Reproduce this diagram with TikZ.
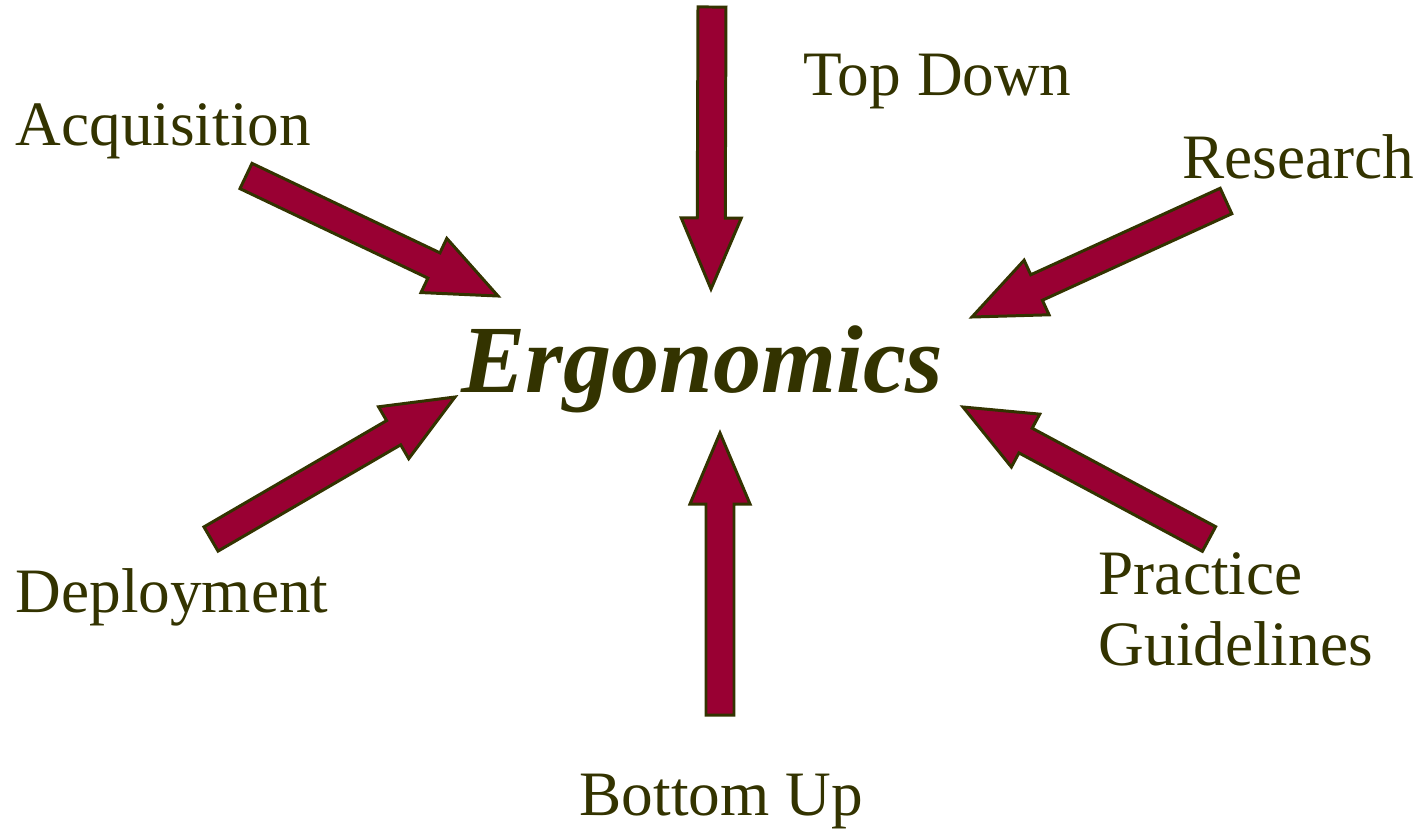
\documentclass[tikz,border=0pt]{standalone}
\usepackage{fontspec}
\setmainfont{Liberation Serif}
\usepackage{xcolor}
\usepackage{tikz}
\usetikzlibrary{%
  calc,
  positioning}
\definecolor{olivetext}{HTML}{333300}
\definecolor{maroonfill}{HTML}{990033}
\tikzset{
  %% Outer labels
  lblnode/.style={
    inner sep=0pt, text=olivetext, align=left,
    font=\fontsize{18}{20}\selectfont},
  %% Central label
  hubnode/.style={
    inner sep=0pt, text=olivetext,
    font=\fontsize{27.4}{30}\selectfont\bfseries\itshape},
  %% Block arrows
  blkarrow/.style={
    fill=maroonfill, draw=olivetext, line width=0.85pt},
}
%% block arrow from tail #1 to tip #2
\newcommand{\blkarrow}[2]{%
  \coordinate (#1-hb) at ($(#2)!0.71cm!(#1)$);
  \draw[blkarrow]
    ($(#1)!0.14cm!90:(#2)$) -- ($(#1-hb)!0.14cm!90:(#2)$)
    -- ($(#1-hb)!0.30cm!90:(#2)$) -- (#2)
    -- ($(#1-hb)!0.30cm!-90:(#2)$) -- ($(#1-hb)!0.14cm!-90:(#2)$)
    -- ($(#1)!0.14cm!-90:(#2)$) -- cycle;}
\begin{document}
\begin{tikzpicture}

  \useasboundingbox (0,0) rectangle (14.28,8.30);

  %% Labels
  \node[hubnode, anchor=base west] (ergo) at (4.61,4.38) {Ergonomics};
  \node[lblnode, anchor=base west] (acq)  at (0.15,6.85) {Acquisition};
  \node[lblnode, anchor=base west] (top)  at (8.03,7.35) {Top Down};
  \node[lblnode, anchor=base west] (res)  at (11.82,6.52) {Research};
  \node[lblnode, anchor=base west] (dep)  at (0.15,2.18) {Deployment};
  \node[lblnode, anchor=base west] (prac) at (10.98,1.65) {Practice\\Guidelines};
  \node[lblnode, anchor=base west] (bot)  at (5.79,0.15) {Bottom Up};

  %% Arrow ends
  \coordinate (topT) at (7.12,8.23);  \coordinate (topP) at (7.11,5.41);
  \coordinate (botT) at (7.20,1.15);  \coordinate (botP) at (7.20,3.97);
  \coordinate (acqT) at (2.46,6.54);  \coordinate (acqP) at (4.98,5.34);
  \coordinate (resT) at (12.26,6.29); \coordinate (resP) at (9.72,5.13);
  \coordinate (depT) at (2.11,2.91);  \coordinate (depP) at (4.55,4.33);
  \coordinate (pracT) at (12.09,2.91);\coordinate (pracP) at (9.63,4.23);

  %% Arrows
  \blkarrow{topT}{topP}
  \blkarrow{botT}{botP}
  \blkarrow{acqT}{acqP}
  \blkarrow{resT}{resP}
  \blkarrow{depT}{depP}
  \blkarrow{pracT}{pracP}

\end{tikzpicture}
\end{document}
